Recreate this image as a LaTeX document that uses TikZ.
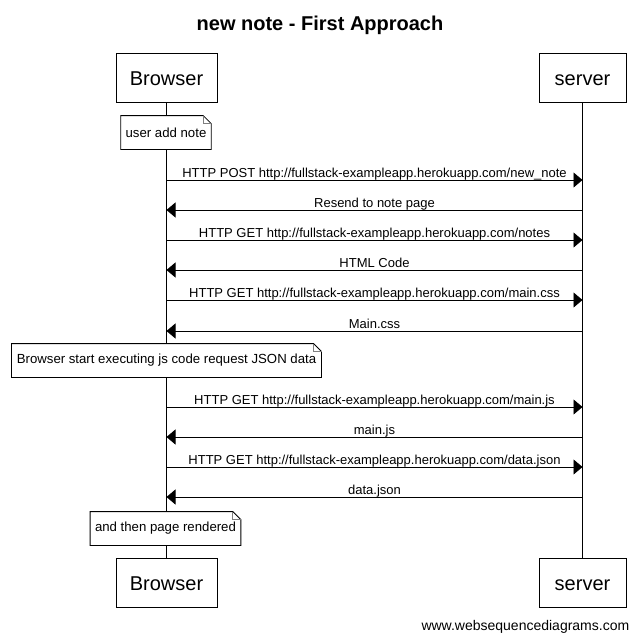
\documentclass[tikz,border=0pt]{standalone}
\usepackage{fontspec}
\setmainfont{Liberation Sans}
\usetikzlibrary{arrows.meta}

\begin{document}
\begin{tikzpicture}[x=1pt,y=-1pt,line width=0.8pt,
        actor/.style={draw,fill=white,minimum height=49pt,text height=16pt,text depth=0pt,font=\fontsize{20}{24}\selectfont},
        note/.style={fill=white,minimum height=33pt,inner xsep=4.5pt,font=\fontsize{13.2}{16}\selectfont},
        msg/.style={-{Triangle[length=9pt,width=15pt]}},
        lbl/.style={font=\fontsize{13}{16}\selectfont,anchor=base,yshift=3pt}]
                \useasboundingbox (0,0) rectangle (640,641);
                \node[font=\bfseries\fontsize{20}{24}\selectfont,anchor=base] (title) at (320,30.5) {new note - First Approach};

                % participants
                \node[actor,minimum width=101pt] (b1) at (166.5,77.5) {Browser};
                \node[actor,minimum width=87pt] (s1) at (582.5,77.5) {server};
                \node[actor,minimum width=101pt] (b2) at (166.5,582.5) {Browser};
                \node[actor,minimum width=87pt] (s2) at (582.5,582.5) {server};
                \draw (b1) -- (b2);
                \draw (s1) -- (s2);

                % notes
                \node[note] (n1) at (166,132.5) {user add note};
                \node[note,inner xsep=5pt] (n2) at (166.5,360.5) {Browser start executing js code request JSON data};
                \node[note] (n3) at (165.5,528.5) {and then page rendered};
                \foreach \n in {n1,n2,n3} {
                    \draw (\n.north west) -- ([xshift=-8pt]\n.north east) -- ([yshift=-8pt]\n.north east) -- (\n.south east) -- (\n.south west) -- cycle;
                    \draw[gray] ([xshift=-8pt]\n.north east) -- ([xshift=-8pt,yshift=-8pt]\n.north east) -- ([yshift=-8pt]\n.north east);
                }

                % requests
                \foreach \y/\t in {180/{HTTP POST http://fullstack-exampleapp.herokuapp.com/new\_note},
                                   240/{HTTP GET http://fullstack-exampleapp.herokuapp.com/notes},
                                   300/{HTTP GET http://fullstack-exampleapp.herokuapp.com/main.css},
                                   407/{HTTP GET http://fullstack-exampleapp.herokuapp.com/main.js},
                                   467/{HTTP GET http://fullstack-exampleapp.herokuapp.com/data.json}}
                    \draw[msg] (b1 |- 0,\y) -- (s1 |- 0,\y) node[lbl,midway] {\t};

                % responses
                \foreach \y/\t in {210/{Resend to note page},270/{HTML Code},331/{Main.css},437/{main.js},497/{data.json}}
                    \draw[msg] (s1 |- 0,\y) -- (b1 |- 0,\y) node[lbl,midway] {\t};

                \node[anchor=east,font=\fontsize{14}{17}\selectfont] (site) at (633,627) {www.websequencediagrams.com};
            \end{tikzpicture}
\end{document}
